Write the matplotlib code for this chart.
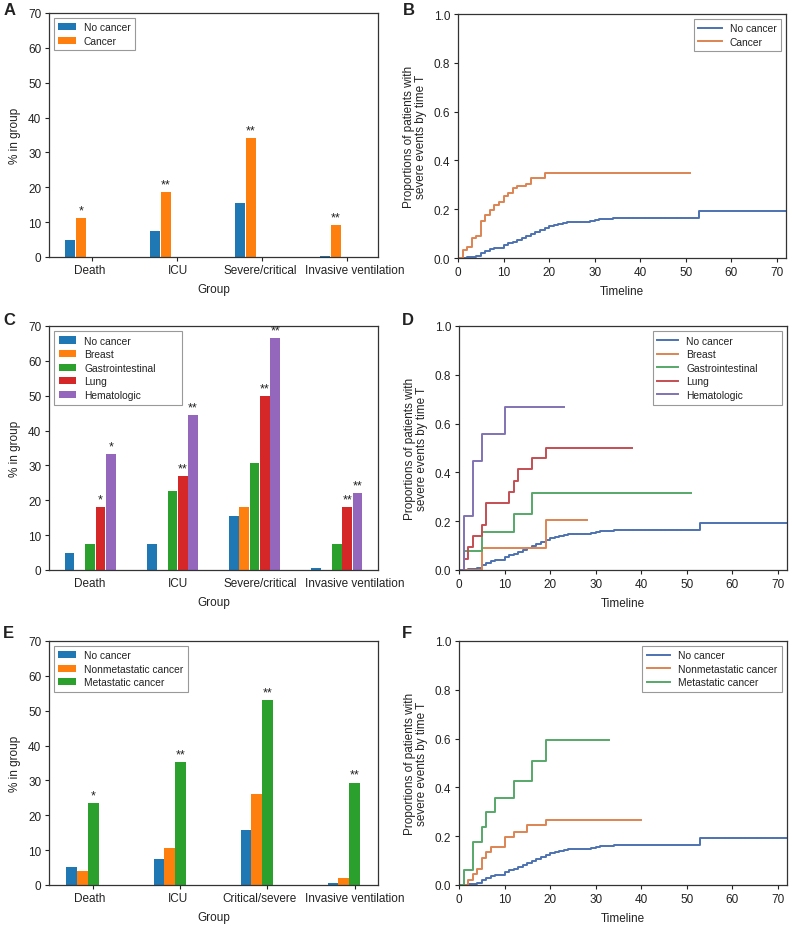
import matplotlib
matplotlib.use("Agg")
import matplotlib.pyplot as plt
import numpy as np

plt.rcParams['font.family'] = ['Liberation Sans', 'DejaVu Sans']
plt.rcParams['font.size'] = 8.5
plt.rcParams['text.color'] = '#222222'
plt.rcParams['axes.labelcolor'] = '#222222'
plt.rcParams['xtick.color'] = '#222222'
plt.rcParams['ytick.color'] = '#222222'

# ---------------- data ----------------
groups_ac = ["Death", "ICU", "Severe/critical", "Invasive ventilation"]
groups_e = ["Death", "ICU", "Critical/severe", "Invasive ventilation"]

# Panel A
a_names = ["No cancer", "Cancer"]
a_no_cancer = [5.0, 7.4, 15.6, 0.4]
a_cancer = [11.2, 18.6, 34.1, 9.2]
a_stars = [["", "", "", ""], ["*", "**", "**", "**"]]

# Panel C
c_names = ["No cancer", "Breast", "Gastrointestinal", "Lung", "Hematologic"]
c_no_cancer = [5.0, 7.4, 15.5, 0.6]
c_breast = [0, 0, 18.0, 0]
c_gi = [7.4, 22.8, 30.6, 7.4]
c_lung = [18.0, 27.0, 49.8, 18.0]
c_heme = [33.2, 44.4, 66.6, 22.0]
c_stars = [["", "", "", ""], ["", "", "", ""], ["", "", "", ""],
           ["*", "**", "**", "**"], ["*", "**", "**", "**"]]

# Panel E
e_names = ["No cancer", "Nonmetastatic cancer", "Metastatic cancer"]
e_no_cancer = [5.1, 7.6, 15.8, 0.6]
e_nonmet = [4.1, 10.7, 26.0, 2.1]
e_met = [23.4, 35.2, 53.0, 29.4]
e_stars = [["", "", "", ""], ["", "", "", ""], ["*", "**", "**", "**"]]

# Cumulative proportion curves (time, proportion), step-post
km_no_cancer_t = [0, 2, 4, 5, 6, 7, 8, 9, 10, 11, 12, 13, 14, 15, 16, 17, 18, 19, 20,
                  21, 22, 23, 24, 26, 29, 30, 31, 32, 34, 53, 72]
km_no_cancer_y = [0, 0.004, 0.008, 0.02, 0.028, 0.035, 0.040, 0.043, 0.055, 0.060, 0.066,
                  0.072, 0.080, 0.090, 0.100, 0.106, 0.113, 0.122, 0.130, 0.134, 0.140,
                  0.145, 0.147, 0.148, 0.150, 0.155, 0.158, 0.160, 0.163, 0.193, 0.193]

km_cancer_t = [0, 1, 2, 3, 4, 5, 6, 7, 8, 9, 10, 11, 12, 13, 15, 16, 19, 51]
km_cancer_y = [0, 0.034, 0.044, 0.081, 0.092, 0.150, 0.178, 0.196, 0.217, 0.228, 0.255,
               0.266, 0.286, 0.295, 0.302, 0.327, 0.347, 0.347]

km_breast_t = [0, 5, 19, 28]
km_breast_y = [0, 0.09, 0.205, 0.205]
km_gi_t = [0, 1, 5, 12, 16, 51]
km_gi_y = [0, 0.078, 0.155, 0.23, 0.316, 0.316]
km_lung_t = [0, 1, 2, 3, 5, 6, 11, 12, 13, 16, 19, 38]
km_lung_y = [0, 0.046, 0.094, 0.141, 0.185, 0.273, 0.318, 0.366, 0.413, 0.457, 0.502, 0.502]
km_heme_t = [0, 1, 3, 5, 10, 23]
km_heme_y = [0, 0.223, 0.447, 0.556, 0.668, 0.668]

km_nonmet_t = [0, 2, 3, 4, 5, 6, 7, 10, 12, 15, 19, 40]
km_nonmet_y = [0, 0.02, 0.045, 0.067, 0.11, 0.134, 0.155, 0.196, 0.219, 0.244, 0.268, 0.268]
km_met_t = [0, 1, 3, 5, 6, 8, 12, 16, 19, 33]
km_met_y = [0, 0.06, 0.178, 0.237, 0.299, 0.356, 0.428, 0.51, 0.593, 0.593]

bar_colors = ['#1f77b4', '#ff7f0e', '#2ca02c', '#d62728', '#9467bd']
line_colors = ['#4c72b0', '#dd8452', '#55a868', '#c44e52', '#8172b2']

# group label centres (axes fraction) as typeset in the figure
group_label_frac = [0.125, 0.392, 0.641, 0.930]

# ---------------- figure ----------------
W, H = 792, 929
fig = plt.figure(figsize=(W / 100, H / 100), dpi=100)


def ax_px(left, top, right, bottom):
    return fig.add_axes([left / W, 1 - bottom / H, (right - left) / W, (bottom - top) / H])


def style_axes(ax):
    for s in ax.spines.values():
        s.set_color('#333333')
        s.set_linewidth(0.9)
    ax.tick_params(length=3, width=0.8, labelsize=8.5, pad=2.5)


def make_legend(ax, loc, hl, bbox=None):
    kw = dict(loc=loc, fancybox=False, framealpha=1, edgecolor='#999999',
              fontsize=7.4, handlelength=hl, labelspacing=0.35, borderpad=0.45,
              handletextpad=0.8)
    if bbox is not None:
        kw.update(bbox_to_anchor=bbox, mode='expand', borderaxespad=0)
    else:
        kw.update(borderaxespad=0.45)
    leg = ax.legend(**kw)
    leg.get_frame().set_linewidth(0.8)


def bar_panel(ax, groups, series, names, stars, xlim, show_xticks=True, legend_bbox=None):
    x = np.arange(len(groups))
    slot = 0.125
    for i, (vals, nm) in enumerate(zip(series, names)):
        pos = x + (i - 2) * slot
        ax.bar(pos, vals, width=0.118, color=bar_colors[i], label=nm, linewidth=0)
        for j, v in enumerate(vals):
            if stars[i][j]:
                ax.text(pos[j], v + 0.5, stars[i][j], ha='center', va='bottom', fontsize=9)
    ax.set_xticks(x)
    ax.set_xticklabels([])
    for f, g in zip(group_label_frac, groups):
        ax.text(f, -0.027, g, transform=ax.transAxes, ha='center', va='top', fontsize=8.5)
    ax.set_xlim(*xlim)
    ax.set_ylim(0, 70)
    ax.set_yticks(range(0, 71, 10))
    ax.set_ylabel("% in group", fontsize=8.5, labelpad=5)
    ax.set_xlabel("Group", fontsize=8.5)
    ax.xaxis.set_label_coords(0.5, -0.107)
    style_axes(ax)
    if not show_xticks:
        ax.tick_params(axis='x', length=0)
    make_legend(ax, 'upper left', 1.7, legend_bbox)


def km_panel(ax, curves, names, colors, legend_bbox=None):
    for (t, y), nm, c in zip(curves, names, colors):
        ax.step(t, y, where='post', color=c, lw=1.4, label=nm)
    ax.set_xlim(0, 72)
    ax.set_ylim(0, 1.0)
    ax.set_xticks(range(0, 71, 10))
    ax.set_yticks(np.arange(0, 1.01, 0.2))
    ax.set_yticklabels([f"{v:.1f}" for v in np.arange(0, 1.01, 0.2)])
    ax.set_ylabel("Proportions of patients with\nsevere events by time T", fontsize=8.5,
                  labelpad=5, linespacing=1.0)
    ax.set_xlabel("Timeline", fontsize=8.5, labelpad=5)
    style_axes(ax)
    if legend_bbox is None:
        make_legend(ax, 'upper right', 2.3)
    else:
        make_legend(ax, 'upper left', 2.0, legend_bbox)


axA = ax_px(49, 14, 378, 258)
bar_panel(axA, groups_ac, [a_no_cancer, a_cancer], a_names, a_stars, (-0.5, 3.37))
axB = ax_px(458, 15, 786, 259)
km_panel(axB, [(km_no_cancer_t, km_no_cancer_y), (km_cancer_t, km_cancer_y)],
         ["No cancer", "Cancer"], line_colors[:2])

axC = ax_px(49, 327, 378, 571)
bar_panel(axC, groups_ac, [c_no_cancer, c_breast, c_gi, c_lung, c_heme], c_names, c_stars,
          (-0.5, 3.5), show_xticks=False, legend_bbox=(0.015, 0.0, 0.389, 0.98))
axD = ax_px(459, 327, 787, 571)
km_panel(axD, [(km_no_cancer_t, km_no_cancer_y), (km_breast_t, km_breast_y),
               (km_gi_t, km_gi_y), (km_lung_t, km_lung_y), (km_heme_t, km_heme_y)],
         c_names, line_colors, legend_bbox=(0.591, 0.0, 0.394, 0.98))

axE = ax_px(49, 642, 378, 886)
bar_panel(axE, groups_e, [e_no_cancer, e_nonmet, e_met], e_names, e_stars, (-0.51, 3.27))
axF = ax_px(459, 642, 787, 886)
km_panel(axF, [(km_no_cancer_t, km_no_cancer_y), (km_nonmet_t, km_nonmet_y),
               (km_met_t, km_met_y)], ["No cancer", "Nonmetastatic cancer", "Metastatic cancer"],
         line_colors[:3])

for lab, (px, py) in {"A": (4, 15), "B": (403, 15), "C": (3, 325), "D": (402, 325),
                      "E": (3, 638), "F": (402, 638)}.items():
    fig.text(px / W, 1 - py / H, lab, fontsize=12, fontweight='bold', ha='left', va='baseline')

fig.savefig("out.png", dpi=100)
